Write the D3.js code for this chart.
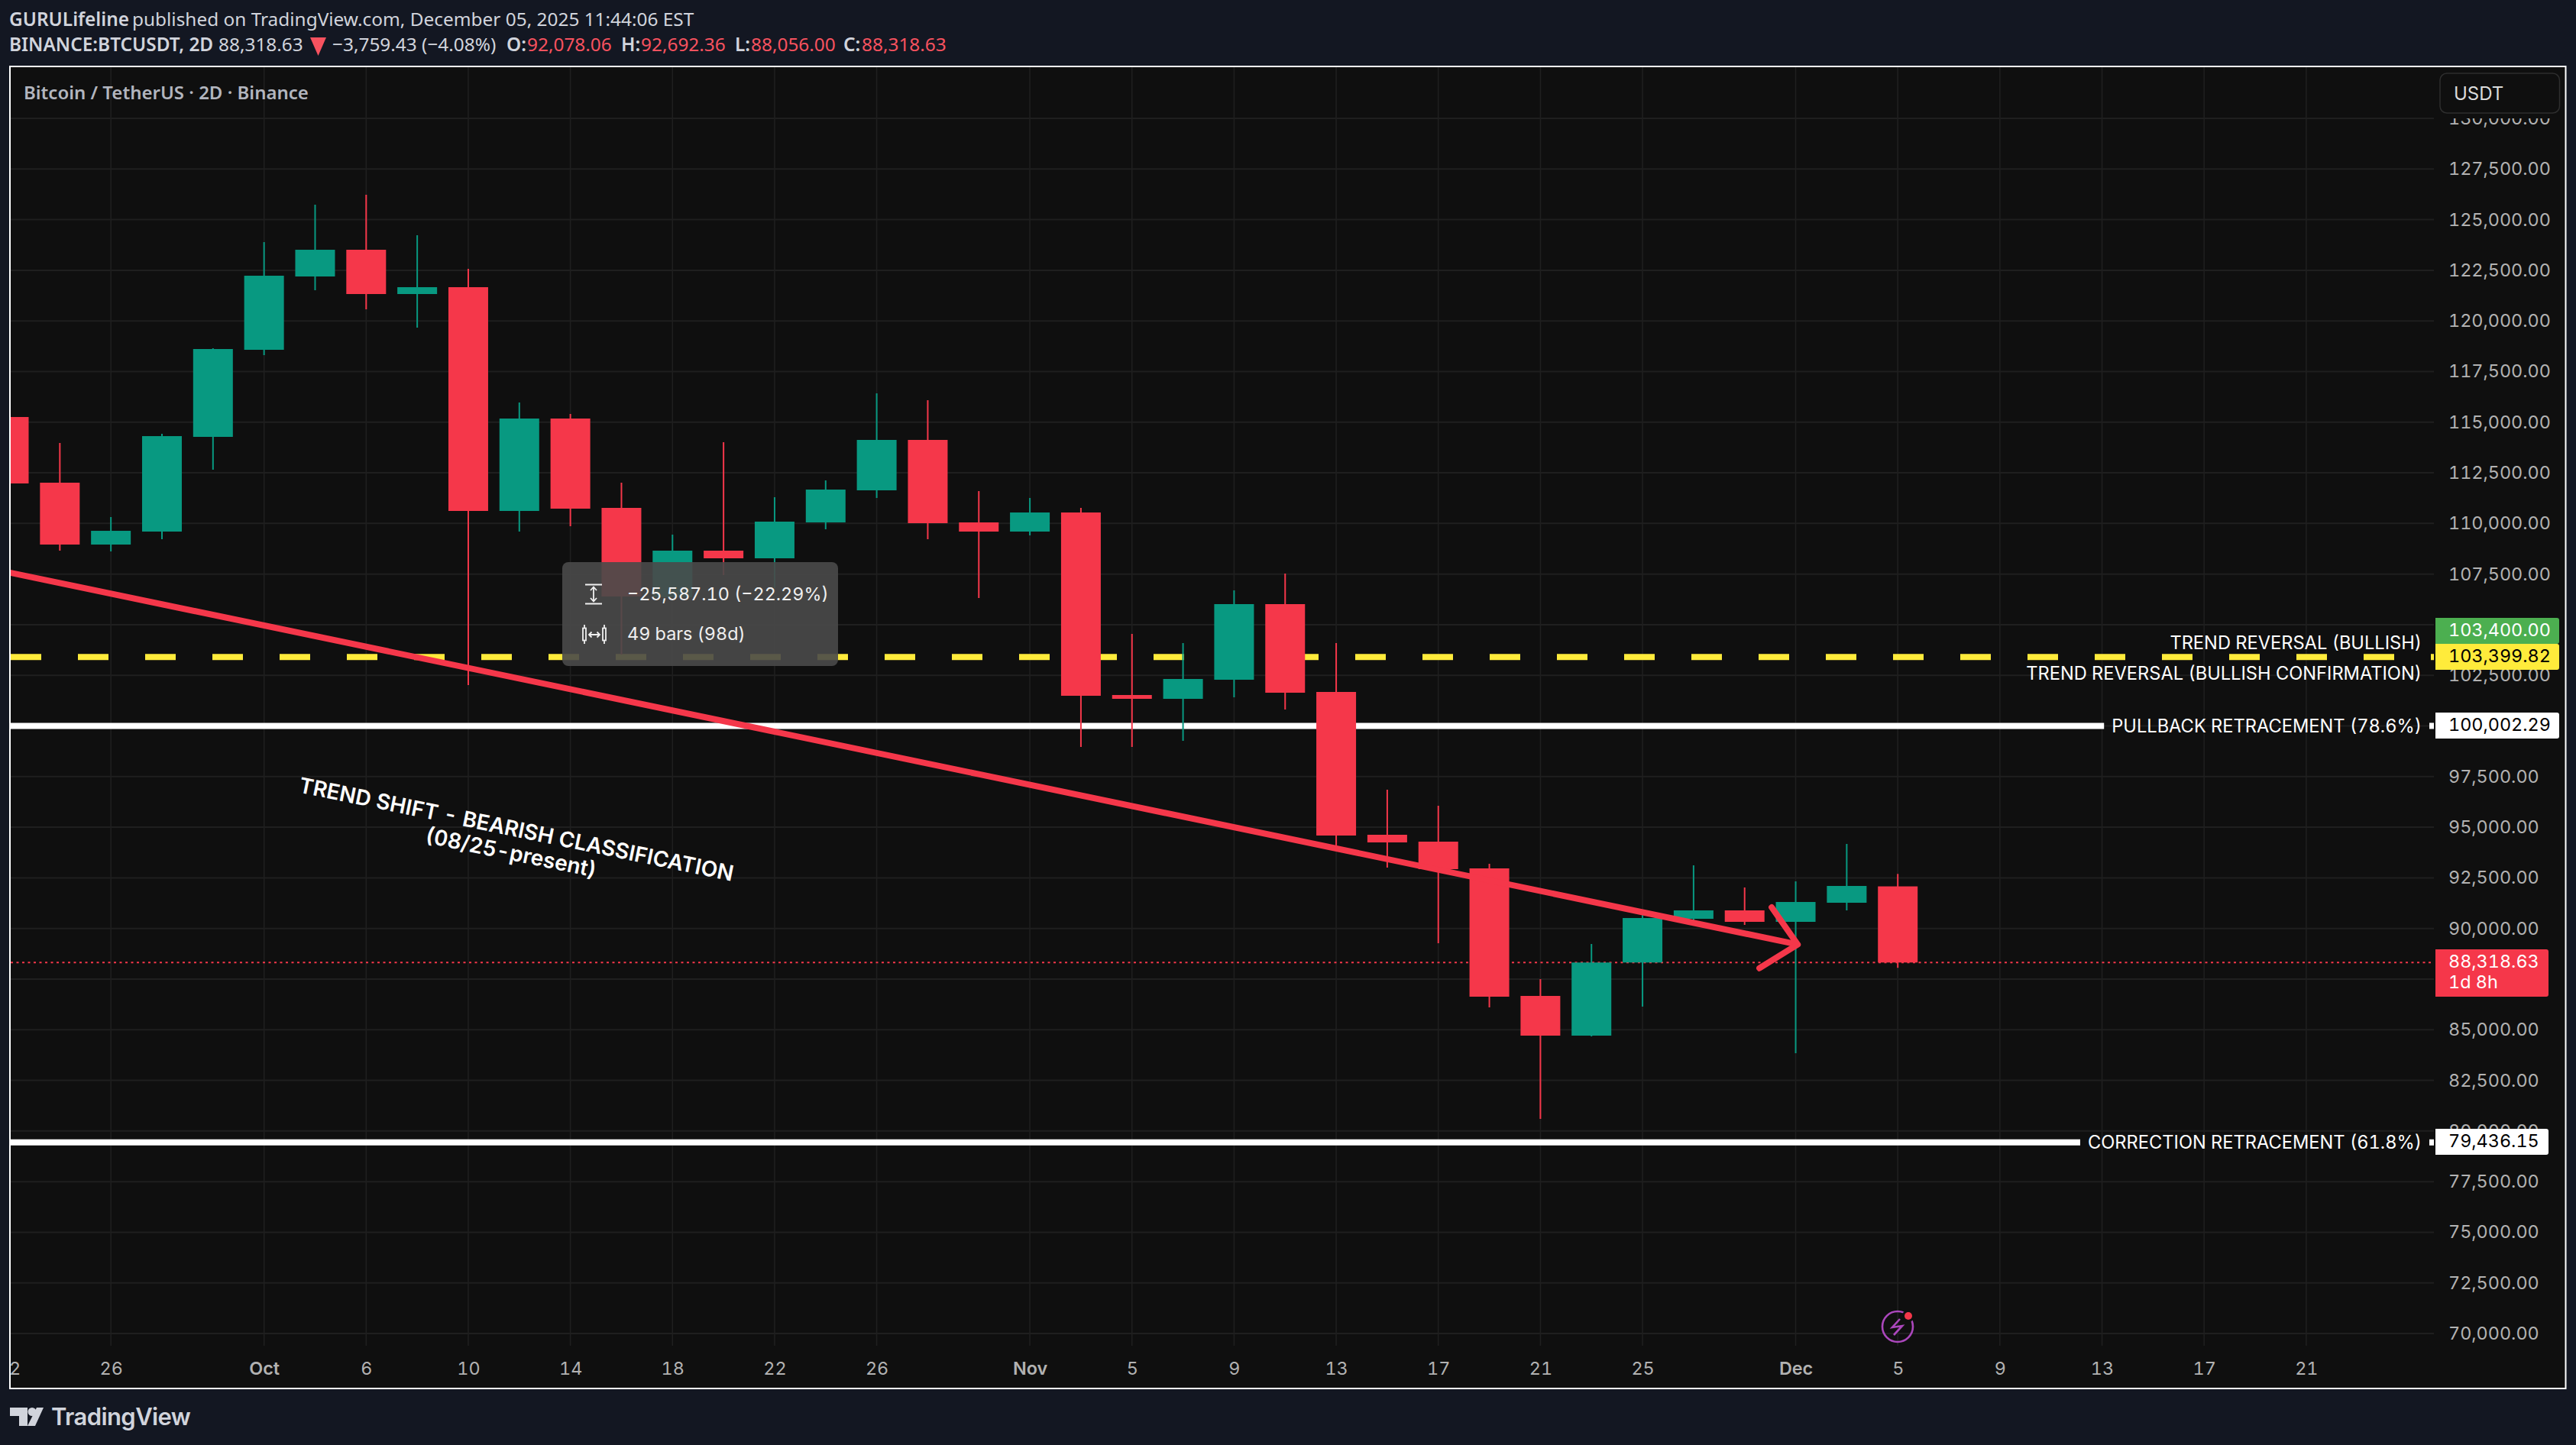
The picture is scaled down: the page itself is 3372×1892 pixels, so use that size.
<!DOCTYPE html>
<html>
<head>
<meta charset="utf-8">
<script src="https://cdn.jsdelivr.net/npm/d3@7"></script>
<style>
html,body{margin:0;padding:0;background:#131722;}
svg{display:block;}
text{font-kerning:normal;font-variant-numeric:tabular-nums;font-feature-settings:"tnum" 1;}
</style>
</head>
<body>
<div id="chart"></div>
<script>
// ---- data ----
const barDates = ["09-22","09-24","09-26","09-28","09-30","10-02","10-04","10-06","10-08","10-10","10-12","10-14","10-16","10-18","10-20","10-22","10-24","10-26","10-28","10-30","11-01","11-03","11-05","11-07","11-09","11-11","11-13","11-15","11-17","11-19","11-21","11-23","11-25","11-27","11-29","12-01","12-03","12-05"];
const opens  = [115254,112011,108956,109597,114274,118573,122193,123513,121326,121665,110616,115179,110767,106354,108655,108278,110050,111634,114123,110050,109597,110540,101527,101339,102281,106015,101678,94626,94286,92966,86669,84708,88318,90477,90892,90327,91269,92078.06];
const closes = [111973,108956,109635,114311,118611,122231,123513,121326,121665,110616,115179,110729,106392,108655,108278,110088,111672,114123,110012,109597,110540,101489,101339,102319,106015,101640,94588,94249,92929,86631,84708,88318,90515,90892,90327,91307,92099,88318.63];
const highs  = [115254,113972,110314,114425,118648,123890,125738,126228,124230,122570,115971,115405,112011,109447,114010,111295,112124,116423,116084,111596,111257,110767,104544,104091,106694,107523,104091,96851,96059,93193,87498,89233,90666,93117,92024,92325,94173,92692.36];
const lows   = [111973,108655,108617,109220,112652,118309,121514,120572,119667,102017,109597,109861,103526,106354,107448,106807,109711,111257,109220,106316,109409,98963,98963,99264,101414,100811,94060,93004,89271,86103,80597,84670,86141,90402,90176,83840,90892,88056];

const priceTicks = d3.range(70000, 130001, 2500);
const timeTickBars = [0,2,5,7,9,11,13,15,17,20,22,24,26,28,30,32,35,37,39,41,43,45];
const timeTickLabels = ["22","26","Oct","6","10","14","18","22","26","Nov","5","9","13","17","21","25","Dec","5","9","13","17","21"];
const monthLabels = ["Oct","Nov","Dec"];

const trendBars   = [-0.1, 35.04];
const trendPrices = [107634, 89207];
const headBars    = [34.29, 35.04, 34.53];
const headPrices  = [88038, 89207, 91044];

const yellowLevel = 103399.82;
const pullbackLevel = 100002.29;
const correctionLevel = 79436.15;
const bullishLevel = 103400;
const lastClose = 88318.63;

const GREEN="#089981", RED="#f5374a", BG="#0f0f0f", OUTER="#131722", GRID="#1f1f1f", AXIS="#b2b2b2";
const W=3372,H=1892;
const pane={l:14,r:3186,t:88,b:1762};
const AF="Inter, sans-serif", HF="'Noto Sans', sans-serif";
const AS=23.4;

const svg=d3.select("#chart").append("svg").attr("width",W).attr("height",H).attr("viewBox",`0 0 ${W} ${H}`);
const defs=svg.append("defs");
defs.append("clipPath").attr("id","pane").append("rect").attr("x",pane.l).attr("y",pane.t).attr("width",pane.r-pane.l).attr("height",pane.b-pane.t);
defs.append("clipPath").attr("id","yclip").append("rect").attr("x",-10).attr("y",155).attr("width",170).attr("height",1620);

const x=d3.scaleLinear().domain([0,45]).range([11.5,11.5+45*66.83]);
const y=d3.scaleLinear().domain([70000,130000]).range([1746,155]);
const bw=52;

svg.append("rect").attr("width",W).attr("height",H).attr("fill",OUTER);
svg.append("rect").attr("x",13).attr("y",87).attr("width",3345.5).attr("height",1731).attr("fill",BG).attr("stroke","#ffffff").attr("stroke-width",2);

// grid + axes
const gridH=svg.append("g").attr("clip-path","url(#pane)");
gridH.selectAll("line").data(priceTicks).join("line")
 .attr("x1",pane.l).attr("x2",pane.r).attr("y1",d=>y(d)).attr("y2",d=>y(d)).attr("stroke",GRID).attr("stroke-width",2);
const gridV=svg.append("g");
gridV.selectAll("line").data(timeTickBars).join("line")
 .attr("clip-path","url(#pane)")
 .attr("x1",d=>x(d)).attr("x2",d=>x(d)).attr("y1",pane.t).attr("y2",pane.b).attr("stroke",GRID).attr("stroke-width",1.6);

const yAxis=d3.axisRight(y).tickValues(priceTicks).tickFormat(d3.format(",.2f")).tickSize(0).tickPadding(0);
const yG=svg.append("g").attr("transform",`translate(3205,0)`).call(yAxis);
yG.attr("clip-path","url(#yclip)");
yG.select(".domain").remove();
yG.selectAll("text").attr("font-family",AF).attr("font-size",AS).attr("fill",AXIS).attr("x",0).attr("dy","0.32em");

const xAxis=d3.axisBottom(x).tickValues(timeTickBars).tickFormat((d,i)=>timeTickLabels[i]).tickSize(0).tickPadding(0);
const xG=svg.append("g").attr("transform",`translate(0,1792)`).attr("clip-path","url(#xclip)");
defs.append("clipPath").attr("id","xclip").append("rect").attr("x",pane.l).attr("y",-40).attr("width",3300).attr("height",80);
xG.call(xAxis);
xG.select(".domain").remove();
xG.selectAll("text").attr("font-family",AF).attr("font-size",AS).attr("fill",AXIS).attr("y",0).attr("dy","0.35em")
 .attr("font-weight",(d,i)=>monthLabels.includes(timeTickLabels[i])?600:400);

// level lines (behind candles)
const levels=svg.append("g").attr("clip-path","url(#pane)");
levels.append("line").attr("x1",pane.l).attr("x2",pane.r).attr("y1",y(lastClose)).attr("y2",y(lastClose))
 .attr("stroke",RED).attr("stroke-width",2).attr("stroke-dasharray","3 4.5");
levels.append("line").attr("x1",pane.l).attr("x2",pane.r).attr("y1",y(yellowLevel)).attr("y2",y(yellowLevel))
 .attr("stroke","#ffeb3b").attr("stroke-width",8).attr("stroke-dasharray","40 48");

const lineLabelSize=23.65;
function gapLine(level,label){
  const t=svg.append("text").attr("x",3170).attr("y",y(level)).attr("dy","0.36em").attr("text-anchor","end")
    .attr("font-family",AF).attr("font-size",lineLabelSize).attr("fill","#ffffff").text(label);
  const left=t.node().getBBox().x;
  levels.append("line").attr("x1",pane.l).attr("x2",left-10).attr("y1",y(level)).attr("y2",y(level)).attr("stroke","#fff").attr("stroke-width",8);
  levels.append("line").attr("x1",3180).attr("x2",pane.r).attr("y1",y(level)).attr("y2",y(level)).attr("stroke","#fff").attr("stroke-width",8);
  return t;
}
gapLine(pullbackLevel,"PULLBACK RETRACEMENT (78.6%)");
gapLine(correctionLevel,"CORRECTION RETRACEMENT (61.8%)");

// candles
const bars=barDates.map((d,i)=>({i,d,o:opens[i],h:highs[i],l:lows[i],c:closes[i]}));
const col=d=>d.c>=d.o?GREEN:RED;
const cg=svg.append("g").attr("clip-path","url(#pane)");
cg.selectAll("line").data(bars).join("line")
 .attr("x1",d=>x(d.i)).attr("x2",d=>x(d.i)).attr("y1",d=>y(d.h)).attr("y2",d=>y(d.l)).attr("stroke",col).attr("stroke-width",2);
cg.selectAll("rect").data(bars).join("rect")
 .attr("x",d=>x(d.i)-bw/2).attr("width",bw)
 .attr("y",d=>y(Math.max(d.o,d.c))).attr("height",d=>Math.abs(y(d.o)-y(d.c))).attr("fill",col);

// trend line and arrow head
const ln=d3.line().x(d=>x(d[0])).y(d=>y(d[1]));
const ag=svg.append("g").attr("clip-path","url(#pane)");
ag.append("path").attr("d",ln(d3.zip(trendBars,trendPrices))).attr("fill","none").attr("stroke",RED).attr("stroke-width",8);
ag.append("path").attr("d",ln(d3.zip(headBars,headPrices))).attr("fill","none").attr("stroke",RED).attr("stroke-width",8)
 .attr("stroke-linecap","round").attr("stroke-linejoin","round");

// labels above lines
function lbl(label,cy){svg.append("text").attr("x",3170).attr("y",cy).attr("dy","0.36em").attr("text-anchor","end")
 .attr("font-family",AF).attr("font-size",lineLabelSize).attr("fill","#ffffff").text(label);}
lbl("TREND REVERSAL (BULLISH)",841);
lbl("TREND REVERSAL (BULLISH CONFIRMATION)",881);

// rotated note
const note=svg.append("g").attr("font-family",AF).attr("font-weight",600).attr("font-size",28.1).attr("fill","#ffffff").attr("text-anchor","middle");
note.append("text").attr("transform","translate(676,1085.5) rotate(11.6)").attr("dy","0.36em").text("TREND SHIFT - BEARISH CLASSIFICATION");
note.append("text").attr("transform","translate(669,1116) rotate(11.6)").attr("dy","0.36em").text("(08/25-present)");

// measure tooltip
const tip=svg.append("g");
tip.append("rect").attr("x",736).attr("y",736).attr("width",361).attr("height",136).attr("rx",8).attr("fill","rgba(74,74,74,0.91)");
tip.append("text").attr("x",821).attr("y",778).attr("dy","0.36em").attr("font-family",AF).attr("font-size",23.4).attr("fill","#f0f0f0").text("\u221225,587.10 (\u221222.29%)");
tip.append("text").attr("x",821).attr("y",830).attr("dy","0.36em").attr("font-family",AF).attr("font-size",23.4).attr("fill","#f0f0f0").text("49 bars (98d)");
const ic=tip.append("g").attr("fill","none").attr("stroke","#f0f0f0").attr("stroke-width",1.8);
ic.append("path").attr("d","M766,765.5H788M766,790.5H788M777,769V787M773,773L777,768.5L781,773M773,783L777,787.5L781,783");
ic.append("path").attr("d","M765,818V822.5M765,838.5V843M791,818V822.5M791,838.5V843M771,831H785M774.5,827.5L771,831L774.5,834.5M781.5,827.5L785,831L781.5,834.5");
ic.append("rect").attr("x",763).attr("y",822.5).attr("width",4).attr("height",16);
ic.append("rect").attr("x",789).attr("y",822.5).attr("width",4).attr("height",16);

// bolt marker
const bolt=svg.append("g");
bolt.append("circle").attr("cx",2484).attr("cy",1737).attr("r",20).attr("fill","none").attr("stroke","#ab47bc").attr("stroke-width",2.6);
bolt.append("path").attr("d","M2487,1727L2477,1738L2490,1736L2479,1748").attr("fill","none").attr("stroke","#ab47bc").attr("stroke-width",2.6);
bolt.append("circle").attr("cx",2498).attr("cy",1723).attr("r",8).attr("fill",BG);
bolt.append("circle").attr("cx",2498).attr("cy",1723).attr("r",5).attr("fill","#f5374a");

// price tags
function tag(level,text,bg,fg,h,right,top){
  const yt=top, xl=3188,r=3;
  svg.append("path").attr("d",`M${xl},${yt}H${right-r}Q${right},${yt} ${right},${yt+r}V${yt+h-r}Q${right},${yt+h} ${right-r},${yt+h}H${xl}Z`).attr("fill",bg);
  svg.append("text").attr("x",3205).attr("y",yt+15.5).attr("dy","0.36em").attr("font-family",AF).attr("font-size",AS).attr("fill",fg).text(text);
}
const fmt=d3.format(",.2f");
tag(bullishLevel,fmt(bullishLevel),"#4caf50","#ffffff",34,3350,809);
tag(yellowLevel,fmt(yellowLevel),"#ffeb3b","#000000",34,3350,843);
tag(pullbackLevel,fmt(pullbackLevel),"#ffffff","#000000",34,3350,933);
tag(correctionLevel,fmt(correctionLevel),"#ffffff","#000000",34,3336,1478);
tag(lastClose,fmt(lastClose),RED,"#ffffff",62,3336,1243);
svg.append("text").attr("x",3205).attr("y",1286).attr("dy","0.36em").attr("font-family",AF).attr("font-size",AS).attr("fill","#ffffff").text("1d 8h");

// currency box
svg.append("rect").attr("x",3194).attr("y",96).attr("width",156.5).attr("height",52).attr("rx",9).attr("fill",BG).attr("stroke","#2e2e2e").attr("stroke-width",1.5);
svg.append("text").attr("x",3212).attr("y",122).attr("dy","0.36em").attr("font-family",AF).attr("font-size",AS+0.6).attr("fill","#dbdbdb").text("USDT");

// pane caption
svg.append("text").attr("x",31).attr("y",121).attr("dy","0.36em").attr("font-family",HF).attr("font-weight",600).attr("font-size",24).attr("fill","#b2b5be").text("Bitcoin / TetherUS \u00b7 2D \u00b7 Binance");

// header
const hc="#d1d4dc", hr="#f7525f";
function head(xp,yp,s,fill,weight){svg.append("text").attr("x",xp).attr("y",yp).attr("dy","0.36em").attr("font-family",HF).attr("font-size",24.4).attr("font-weight",weight||400).attr("fill",fill).text(s);}
head(12,25,"GURULifeline",hc,600);
head(173,25,"published on TradingView.com, December 05, 2025 11:44:06 EST",hc);
head(12,58,"BINANCE:BTCUSDT, 2D",hc,600);
head(286,58,fmt(lastClose),hc);
svg.append("path").attr("d","M406,49H427L416.5,73Z").attr("fill",hr);
head(435,58,"\u22123,759.43 (\u22124.08%)",hc);
head(663,58,"O:",hc,600); head(690,58,fmt(92078.06),hr);
head(813,58,"H:",hc,600); head(839,58,fmt(92692.36),hr);
head(962,58,"L:",hc,600); head(983,58,fmt(88056),hr);
head(1104,58,"C:",hc,600); head(1128,58,fmt(88318.63),hr);

// logo
const lg=svg.append("g").attr("fill","#d1d4dc");
lg.append("path").attr("d","M13,1843H36V1867H25V1854H13Z");
lg.append("circle").attr("cx",42).attr("cy",1848.5).attr("r",5.5);
lg.append("path").attr("d","M48,1843H57L46,1867H36Z");
svg.append("text").attr("x",67).attr("y",1855).attr("dy","0.36em").attr("font-family",AF).attr("font-weight",600).attr("font-size",31).attr("letter-spacing",-0.6).attr("fill","#d1d4dc").text("TradingView");
</script>
</body>
</html>
